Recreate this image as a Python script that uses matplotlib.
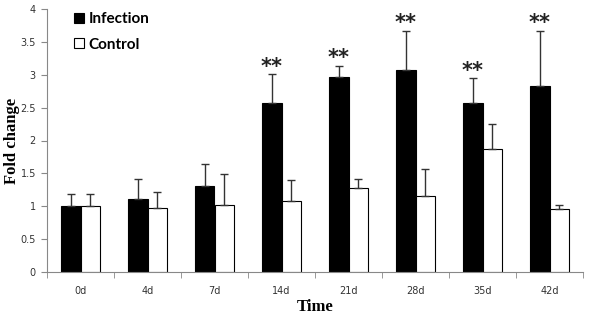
import matplotlib
matplotlib.use("Agg")
import matplotlib.pyplot as plt
import numpy as np

categories = ["0d", "4d", "7d", "14d", "21d", "28d", "35d", "42d"]
infection = [1.00, 1.11, 1.31, 2.57, 2.97, 3.07, 2.57, 2.83]
infection_err = [0.18, 0.31, 0.33, 0.44, 0.17, 0.60, 0.38, 0.84]
control = [1.00, 0.97, 1.02, 1.08, 1.27, 1.16, 1.87, 0.96]
control_err = [0.18, 0.25, 0.47, 0.32, 0.15, 0.41, 0.38, 0.06]
significance = ["", "", "", "**", "**", "**", "**", "**"]
yticks = [0, 0.5, 1, 1.5, 2, 2.5, 3, 3.5, 4]

fig = plt.figure(figsize=(5.92, 3.17), dpi=100)
ax = fig.add_axes([47/592, 45/317, 536/592, 263/317])

x = np.arange(len(categories))
w = 0.285
ekw = dict(ecolor="#333333", elinewidth=1.0, capsize=3, capthick=1.0)
ax.bar(x - w/2, infection, w, color="black", edgecolor="black", linewidth=0.8,
       yerr=[np.zeros(len(x)), infection_err], error_kw=ekw, label="Infection", zorder=2)
ax.bar(x + w/2, control, w, color="white", edgecolor="black", linewidth=0.8,
       yerr=[np.zeros(len(x)), control_err], error_kw=ekw, label="Control", zorder=2)

for xi, v, e, s in zip(x, infection, infection_err, significance):
    if s:
        ax.annotate(s, (xi - w/2, v + e), xytext=(0, -2), textcoords="offset points",
                    ha="center", va="bottom", fontsize=15, fontweight="bold",
                    family="DejaVu Sans", color="#222222")

ax.set_xlim(-0.5, len(categories) - 0.5)
ax.set_ylim(0, 4)
ax.set_yticks(yticks)
ax.set_yticklabels([("%g" % t) for t in yticks], fontsize=7, color="#333333")
ax.set_xticks(x)
ax.set_xticklabels(categories, fontsize=7, color="#333333")
ax.set_xticks(np.arange(len(categories) + 1) - 0.5, minor=True)
ax.tick_params(axis="x", which="major", length=0, pad=10)
ax.tick_params(axis="x", which="minor", length=4, color="#888888", direction="out")
ax.tick_params(axis="y", length=4, color="#888888", direction="out", pad=4)

for sp in ["top", "right"]:
    ax.spines[sp].set_visible(False)
for sp in ["left", "bottom"]:
    ax.spines[sp].set_color("#888888")
    ax.spines[sp].set_linewidth(0.8)

ax.set_xlabel("Time", fontsize=12, fontweight="bold", family="Liberation Serif", labelpad=2)
ax.set_ylabel("Fold change", fontsize=12, fontweight="bold", family="Liberation Serif")
ax.yaxis.set_label_coords(-0.050, 0.5)

leg = ax.legend(loc="upper left", bbox_to_anchor=(0.025, 1.04), frameon=False,
                prop=dict(family="Lato", size=11, weight="bold"),
                handlelength=0.65, handleheight=0.65, handletextpad=0.3, labelspacing=0.75)

fig.savefig("out.png", dpi=100)
